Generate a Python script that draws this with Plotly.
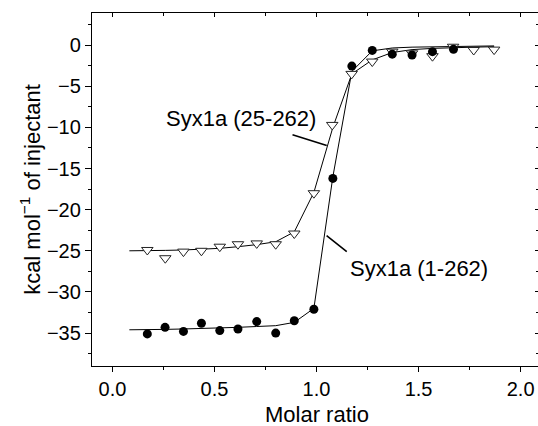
import plotly.graph_objects as go

# ---------------- data ----------------
# Syx1a (1-262): filled circles
ratio_1_262 = [0.171, 0.258, 0.348, 0.436, 0.526, 0.615, 0.707, 0.800, 0.891, 0.987,
               1.080, 1.173, 1.273, 1.371, 1.468, 1.568, 1.671]
heat_1_262 = [-35.1, -34.3, -34.8, -33.8, -34.7, -34.5, -33.6, -35.0, -33.5, -32.1,
              -16.2, -2.55, -0.65, -1.1, -1.2, -0.8, -0.5]

# Syx1a (25-262): open down-triangles
ratio_25_262 = [0.171, 0.259, 0.348, 0.436, 0.526, 0.615, 0.707, 0.800, 0.891, 0.987,
                1.077, 1.172, 1.273, 1.371, 1.468, 1.568, 1.669, 1.770, 1.870]
heat_25_262 = [-24.9, -25.9, -25.1, -25.0, -24.5, -24.2, -24.1, -24.2, -22.9, -18.0,
               -9.7, -3.5, -2.0, -0.8, -1.0, -1.35, -0.2, -0.6, -0.55]

# fitted curves (evaluated at each injection)
fit_ratio = [0.083, 0.171, 0.259, 0.348, 0.436, 0.526, 0.615, 0.707, 0.800, 0.891,
             0.987, 1.080, 1.173, 1.273, 1.371, 1.468, 1.568, 1.669, 1.770, 1.870]
fit_1_262 = [-34.6, -34.6, -34.55, -34.5, -34.45, -34.4, -34.3, -34.2, -34.1, -33.7,
             -32.0, -16.0, -3.2, -0.7, -0.35, -0.25, -0.2, -0.15, -0.12, -0.1]
fit_25_262 = [-25.0, -25.0, -24.95, -24.9, -24.8, -24.7, -24.5, -24.25, -23.9, -22.7,
              -17.9, -10.0, -3.5, -1.8, -0.9, -0.55, -0.4, -0.3, -0.25, -0.2]

x_tickvals = [0.0, 0.5, 1.0, 1.5, 2.0]
x_ticktext = ["0.0", "0.5", "1.0", "1.5", "2.0"]

label_25_262 = "Syx1a (25-262)"
label_1_262 = "Syx1a (1-262)"
x_title = "Molar ratio"
y_title = "kcal mol<sup>\u22121</sup> of injectant"

FONT = "Liberation Sans, Arial, Helvetica, sans-serif"

fig = go.Figure()

fig.add_trace(go.Scatter(x=fit_ratio, y=fit_25_262, mode="lines",
                         line=dict(color="black", width=1), showlegend=False, hoverinfo="skip"))
fig.add_trace(go.Scatter(x=fit_ratio, y=fit_1_262, mode="lines",
                         line=dict(color="black", width=1), showlegend=False, hoverinfo="skip"))
fig.add_trace(go.Scatter(x=ratio_25_262, y=heat_25_262, mode="markers", name=label_25_262,
                         marker=dict(symbol="triangle-down", size=10, color="white",
                                     line=dict(color="#222222", width=1)),
                         showlegend=False))
fig.add_trace(go.Scatter(x=ratio_1_262, y=heat_1_262, mode="markers", name=label_1_262,
                         marker=dict(symbol="circle", size=9, color="black",
                                     line=dict(width=0)),
                         showlegend=False))
# helper (empty) trace so the mirrored top/right axes are drawn
fig.add_trace(go.Scatter(x=[None], y=[None], xaxis="x2", yaxis="y2", showlegend=False,
                         hoverinfo="skip", mode="markers"))

# curve labels
fig.add_annotation(x=0.628, y=-8.9, text=label_25_262, showarrow=False,
                   font=dict(family=FONT, size=22, color="black"))
fig.add_annotation(x=1.50, y=-27.2, text=label_1_262, showarrow=False,
                   font=dict(family=FONT, size=22, color="black"))
# pointer lines
fig.add_annotation(x=1.050, y=-12.2, ax=0.875, ay=-10.85, axref="x", ayref="y",
                   text="", showarrow=True, arrowhead=0, arrowwidth=1.6, arrowcolor="black")
fig.add_annotation(x=1.148, y=-25.1, ax=1.042, ay=-23.0, axref="x", ayref="y",
                   text="", showarrow=True, arrowhead=0, arrowwidth=1.6, arrowcolor="black")
# x-axis title
fig.add_annotation(xref="x", yref="paper", x=1.0, y=-0.137, yanchor="middle",
                   text=x_title, showarrow=False,
                   font=dict(family=FONT, size=22, color="black"))

fig.update_layout(
    width=538, height=426,
    margin=dict(l=92, r=0, t=13, b=60),
    paper_bgcolor="white", plot_bgcolor="white",
    font=dict(family=FONT, size=20, color="black"),
    xaxis=dict(range=[-0.1, 2.085], tickvals=x_tickvals, ticktext=x_ticktext,
               ticks="outside", ticklen=5, tickwidth=1, tickcolor="black",
               minor=dict(dtick=0.25, tick0=0, ticks="outside", ticklen=3, tickcolor="black"),
               showline=True, linecolor="black", linewidth=1.3,
               showgrid=False, zeroline=False, automargin=False,
               tickfont=dict(size=20)),
    xaxis2=dict(range=[-0.1, 2.085], overlaying="x", side="top", matches="x",
                tickvals=x_tickvals, showticklabels=False,
                ticks="inside", ticklen=4, tickwidth=1, tickcolor="black",
                minor=dict(dtick=0.25, tick0=0, ticks="inside", ticklen=3, tickcolor="black"),
                showline=True, linecolor="black", linewidth=1.3, automargin=False,
                showgrid=False, zeroline=False),
    yaxis=dict(range=[-39, 3.9], dtick=5, tick0=0,
               ticks="outside", ticklen=6, tickwidth=1, tickcolor="black",
               minor=dict(dtick=2.5, tick0=0, ticks="outside", ticklen=3, tickcolor="black"),
               showline=True, linecolor="black", linewidth=1.3,
               showgrid=False, zeroline=False, automargin=False,
               tickfont=dict(size=20),
               title=dict(text=y_title, font=dict(size=22), standoff=0)),
    yaxis2=dict(range=[-39, 3.9], overlaying="y", side="right", matches="y",
                dtick=5, tick0=0, showticklabels=False,
                ticks="inside", ticklen=3, tickwidth=1, tickcolor="black",
                minor=dict(dtick=2.5, tick0=0, ticks="inside", ticklen=2, tickcolor="black"),
                showline=False, showgrid=False, zeroline=False, automargin=False),
)

fig.write_html("out.html", config={"displayModeBar": False},
               post_script="document.body.style.margin='0';document.body.style.overflow='hidden';")
